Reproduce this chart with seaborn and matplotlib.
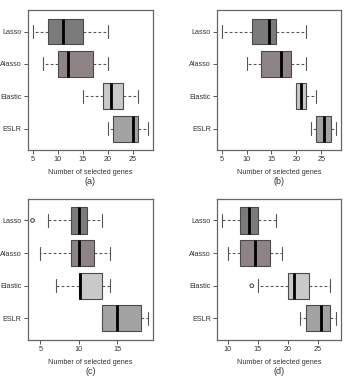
import pandas as pd
import seaborn as sns
import matplotlib.pyplot as plt
from matplotlib.ticker import MultipleLocator

# Métodos y colores de caja
metodos = ["Lasso", "Alasso", "Elastic", "ESLR"]
colores = ["#7b7b7b", "#8e8486", "#c9c9c9", "#a3a3a3"]

# Resumen de cinco números por panel: [bigote_inf, Q1, mediana, Q3, bigote_sup]
panel_a = {
    "Lasso":   [5, 8, 11, 15, 20],
    "Alasso":  [7, 10, 12, 17, 20],
    "Elastic": [15, 19, 20.5, 23, 26],
    "ESLR":    [20, 21, 25, 26, 28],
}
panel_b = {
    "Lasso":   [5, 11, 14.5, 16, 22],
    "Alasso":  [10, 13, 17, 19, 22],
    "Elastic": [20, 20, 21, 22, 24],
    "ESLR":    [23, 24, 25.5, 27, 28],
}
panel_c = {
    "Lasso":   [6, 9, 10, 11, 13],
    "Alasso":  [5, 9, 10, 12, 14],
    "Elastic": [7, 10, 10.1, 13, 14],
    "ESLR":    [13, 13, 15, 18, 19],
}
panel_d = {
    "Lasso":   [9, 12, 13.5, 15, 18],
    "Alasso":  [10, 12, 14.5, 17, 19],
    "Elastic": [15, 20, 21, 23.5, 27],
    "ESLR":    [22, 23, 25.5, 27, 28],
}

# Valores atípicos (método, valor)
atipicos_a = []
atipicos_b = []
atipicos_c = [("Lasso", 4)]
atipicos_d = [("Elastic", 14)]

paneles = [
    (panel_a, atipicos_a, "(a)", [0.081, 0.601, 0.362, 0.372]),
    (panel_b, atipicos_b, "(b)", [0.629, 0.601, 0.359, 0.372]),
    (panel_c, atipicos_c, "(c)", [0.081, 0.096, 0.362, 0.375]),
    (panel_d, atipicos_d, "(d)", [0.629, 0.096, 0.359, 0.375]),
]

sns.set_theme(style="white")
plt.rcParams["font.family"] = ["Liberation Sans", "DejaVu Sans"]

fig = plt.figure(figsize=(3.45, 3.76), dpi=100)

for resumen, atipicos, letra, pos in paneles:
    ax = fig.add_axes(pos)
    df = pd.DataFrame(
        [(m, v) for m in metodos for v in resumen[m]],
        columns=["Metodo", "Valor"],
    )
    sns.boxplot(
        data=df, x="Valor", y="Metodo", hue="Metodo", order=metodos,
        hue_order=metodos, palette=colores, legend=False, ax=ax,
        whis=(0, 100), width=0.8, linewidth=0.8, linecolor="#4a4a4a",
        saturation=1, showfliers=False,
        medianprops={"color": "black", "linewidth": 2.0},
        whiskerprops={"linestyle": (0, (2.5, 2)), "color": "#555555", "linewidth": 0.8},
        capprops={"color": "#555555", "linewidth": 0.8},
    )
    if atipicos:
        odf = pd.DataFrame(atipicos, columns=["Metodo", "Valor"])
        ax.scatter(odf["Valor"], [metodos.index(m) for m in odf["Metodo"]],
                   s=7, facecolors="none", edgecolors="#555555", linewidths=0.8, zorder=3)

    todos = [v for m in metodos for v in resumen[m]] + [v for _, v in atipicos]
    lo, hi = min(todos), max(todos)
    pad = 0.04 * (hi - lo)
    ax.set_xlim(lo - pad, hi + pad)
    ax.set_ylim(3.66, -0.66)
    ax.xaxis.set_major_locator(MultipleLocator(5))

    ax.set_xlabel("Number of selected genes", fontsize=5.2, color="#333333", labelpad=4)
    ax.set_ylabel("")
    ax.annotate(letra, xy=(0.5, 0), xycoords="axes fraction", xytext=(0, -23),
                textcoords="offset points", ha="center", va="center",
                fontsize=6.5, color="#333333")
    ax.tick_params(axis="both", labelsize=5.2, labelcolor="#333333", length=3,
                   width=0.7, color="#555555", pad=1.5, direction="out",
                   bottom=True, left=True)
    for s in ax.spines.values():
        s.set_color("#666666")
        s.set_linewidth(0.9)

fig.savefig("out.png", dpi=100)
